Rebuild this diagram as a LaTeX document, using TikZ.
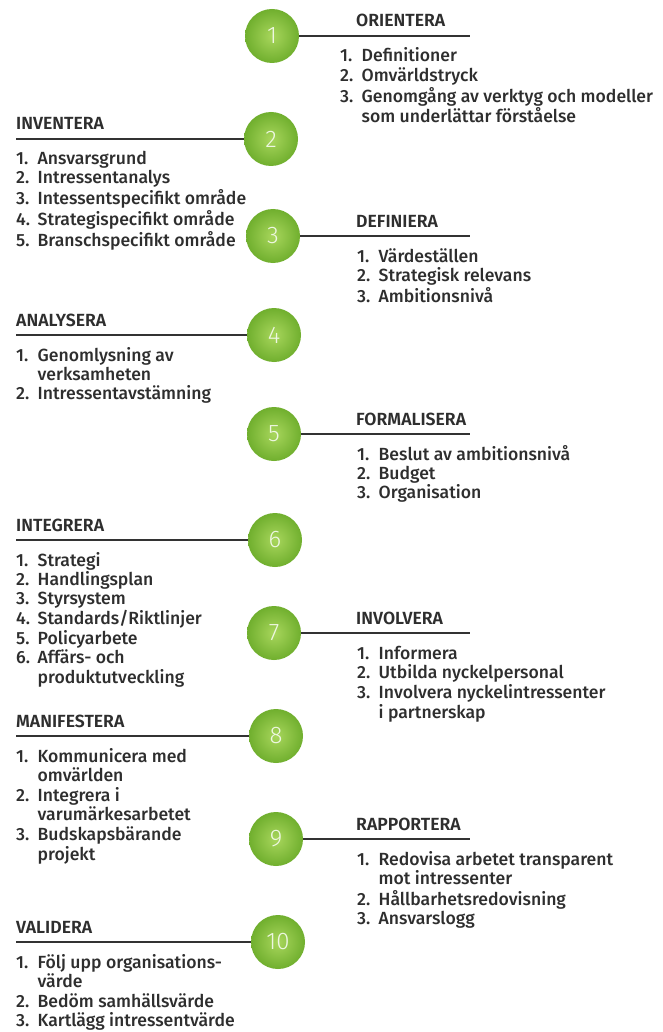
\documentclass[tikz,border=0pt]{standalone}
\usepackage{fontspec}
\setmainfont{Fira Sans}[UprightFont=* Medium, BoldFont=* SemiBold]
\newfontfamily\digitfont{Fira Sans Light}
\usetikzlibrary{calc}
\definecolor{txt}{HTML}{2E2E2E}
\definecolor{lin}{HTML}{333333}
\definecolor{gin}{HTML}{A8D65C}
\definecolor{gout}{HTML}{70AF2E}
\definecolor{dig}{HTML}{EEF7E2}
\newcommand\nm[1]{\makebox[21.5pt][l]{#1}}
\tikzset{
  ball/.style={circle, minimum size=54pt, inner sep=0pt, inner color=gin, outer color=gout,
    text=dig, font=\digitfont\fontsize{24}{24}\selectfont},
  conn/.style={draw=lin, line width=1.5pt},
  ttl/.style={anchor=base west, inner sep=0pt, text=txt, font=\bfseries\fontsize{17.6}{19}\selectfont},
  lst/.style={anchor=base west, inner sep=0pt, text=txt, font=\fontsize{17.6}{19}\selectfont}
}
% right group: id, cx, cy, title, listx, items
\newcommand\stepright[6]{%
  \node[ball] (c#1) at (#2,#3) {#1};
  \coordinate (e#1) at (470,#3);
  \draw[conn] (c#1.east) -- (e#1);
  \node[ttl] (t#1) at (356,#3-9) {#4};
  \node[lst] (l#1) at (#5,#3+26) {\begin{tabular}[t]{@{}l@{}}#6\end{tabular}};
}
\newcommand\stepleft[5]{%
  \node[ball] (c#1) at (#2,#3) {#1};
  \coordinate (s#1) at (16,#3);
  \draw[conn] (s#1) -- (c#1.west);
  \node[ttl] (t#1) at (16,#3-9) {#4};
  \node[lst] (l#1) at (16,#3+26) {\begin{tabular}[t]{@{}l@{}}#5\end{tabular}};
}
\begin{document}
\begin{tikzpicture}[x=1pt,y=-1pt]
\useasboundingbox (0,0) rectangle (662,1032);
\fill[white] (0,0) rectangle (662,1032);
\stepright{1}{272}{36}{ORIENTERA}{340}{\nm{1.}Definitioner\\ \nm{2.}Omvärldstryck\\ \nm{3.}Genomgång av verktyg och modeller\\ \nm{}som underlättar förståelse}
\stepleft{2}{271}{139}{INVENTERA}{\nm{1.}Ansvarsgrund\\ \nm{2.}Intressentanalys\\ \nm{3.}Intessentspecifikt område\\ \nm{4.}Strategispecifikt område\\ \nm{5.}Branschspecifikt område}
\stepright{3}{273}{236}{DEFINIERA}{357}{\nm{1.}Värdeställen\\ \nm{2.}Strategisk relevans\\ \nm{3.}Ambitionsnivå}
\stepleft{4}{274}{335}{ANALYSERA}{\nm{1.}Genomlysning av\\ \nm{}verksamheten\\ \nm{2.}Intressentavstämning}
\stepright{5}{274}{434}{FORMALISERA}{357}{\nm{1.}Beslut av ambitionsnivå\\ \nm{2.}Budget\\ \nm{3.}Organisation}
\stepleft{6}{275}{540}{INTEGRERA}{\nm{1.}Strategi\\ \nm{2.}Handlingsplan\\ \nm{3.}Styrsystem\\ \nm{4.}Standards/Riktlinjer\\ \nm{5.}Policyarbete\\ \nm{6.}Affärs- och\\ \nm{}produktutveckling}
\stepright{7}{274}{633}{INVOLVERA}{357}{\nm{1.}Informera\\ \nm{2.}Utbilda nyckelpersonal\\ \nm{3.}Involvera nyckelintressenter\\ \nm{}i partnerskap}
\stepleft{8}{276}{736}{MANIFESTERA}{\nm{1.}Kommunicera med\\ \nm{}omvärlden\\ \nm{2.}Integrera i\\ \nm{}varumärkesarbetet\\ \nm{3.}Budskapsbärande\\ \nm{}projekt}
\stepright{9}{276}{839}{RAPPORTERA}{357}{\nm{1.}Redovisa arbetet transparent\\ \nm{}mot intressenter\\ \nm{2.}Hållbarhetsredovisning\\ \nm{3.}Ansvarslogg}
\stepleft{10}{278}{942}{VALIDERA}{\nm{1.}Följ upp organisations-\\ \nm{}värde\\ \nm{2.}Bedöm samhällsvärde\\ \nm{3.}Kartlägg intressentvärde}
\end{tikzpicture}
\end{document}
